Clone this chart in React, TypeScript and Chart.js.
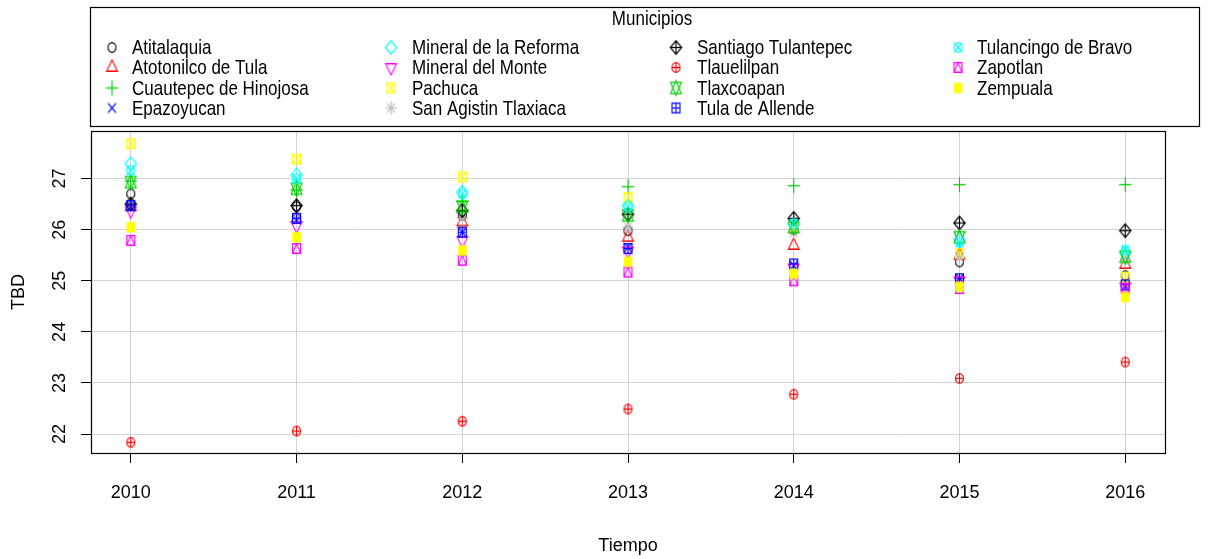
import React, { useEffect, useRef } from 'react';
import { Chart, registerables } from 'chart.js';

Chart.register(...registerables);

const years = [2010, 2011, 2012, 2013, 2014, 2015, 2016];
const yTickValues = [22, 23, 24, 25, 26, 27];

const municipios = [
  'Atitalaquia',
  'Atotonilco de Tula',
  'Cuautepec de Hinojosa',
  'Epazoyucan',
  'Mineral de la Reforma',
  'Mineral del Monte',
  'Pachuca',
  'San Agistin Tlaxiaca',
  'Santiago Tulantepec',
  'Tlauelilpan',
  'Tlaxcoapan',
  'Tula de Allende',
  'Tulancingo de Bravo',
  'Zapotlan',
  'Zempuala',
];

const atitalaquia = [26.7, 26.45, 26.28, 25.98, 26.0, 25.37, 25.1];
const atotonilco = [26.45, 26.22, 26.15, 25.85, 25.69, 25.5, 25.32];
const cuautepec = [26.95, 26.78, 26.55, 26.84, 26.86, 26.88, 26.88];
const epazoyucan = [26.45, 26.2, 25.95, 25.65, 25.3, 25.04, 24.9];
const mineralReforma = [27.29, 27.07, 26.73, 26.47, 26.1, 25.8, 25.55];
const mineralMonte = [26.37, 26.08, 25.79, 25.58, 25.25, 25.0, 24.88];
const pachuca = [27.68, 27.38, 27.03, 26.63, 26.05, 25.53, 25.07];
const sanAgistin = [26.5, 26.25, 26.22, 26.05, 25.95, 25.45, 25.4];
const santiago = [26.5, 26.47, 26.37, 26.3, 26.22, 26.13, 25.98];
const tlauelilpan = [21.84, 22.06, 22.25, 22.49, 22.78, 23.09, 23.41];
const tlaxcoapan = [26.93, 26.8, 26.45, 26.28, 26.05, 25.85, 25.47];
const tulaAllende = [26.47, 26.22, 25.95, 25.63, 25.33, 25.04, 24.92];
const tulancingo = [27.16, 27.0, 26.7, 26.45, 26.12, 25.75, 25.6];
const zapotlan = [25.79, 25.63, 25.4, 25.17, 25.0, 24.85, 24.85];
const zempuala = [26.05, 25.85, 25.59, 25.37, 25.14, 24.88, 24.68];

const seriesValues = [
  atitalaquia, atotonilco, cuautepec, epazoyucan, mineralReforma,
  mineralMonte, pachuca, sanAgistin, santiago, tlauelilpan,
  tlaxcoapan, tulaAllende, tulancingo, zapotlan, zempuala,
];

const seriesColors = [
  '#000000', '#FF0000', '#00CD00', '#0000FF', '#00FFFF', '#FF00FF', '#FFFF00', '#BEBEBE',
  '#000000', '#FF0000', '#00CD00', '#0000FF', '#00FFFF', '#FF00FF', '#FFFF00',
];
const pchCodes = [1, 2, 3, 4, 5, 6, 7, 8, 9, 10, 11, 12, 13, 14, 15];

const FONT = "'Liberation Sans', Arial, sans-serif";

function makeSymbol(pch: number, color: string): HTMLCanvasElement {
  const c = document.createElement('canvas');
  const W = 17, H = 21;
  c.width = W; c.height = H;
  const g = c.getContext('2d') as CanvasRenderingContext2D;
  g.translate(W / 2, H / 2);
  g.scale(1, 1.2);
  g.strokeStyle = color; g.fillStyle = color; g.lineWidth = 1.1;
  const r = 4.0;
  const s2 = r * Math.SQRT2;
  const line = (x1: number, y1: number, x2: number, y2: number) => {
    g.beginPath(); g.moveTo(x1, y1); g.lineTo(x2, y2); g.stroke();
  };
  const poly = (pts: number[][]) => {
    g.beginPath(); g.moveTo(pts[0][0], pts[0][1]);
    for (let k = 1; k < pts.length; k++) g.lineTo(pts[k][0], pts[k][1]);
    g.closePath(); g.stroke();
  };
  const circle = () => { g.beginPath(); g.arc(0, 0, r, 0, Math.PI * 2); g.stroke(); };
  const square = () => { g.strokeRect(-r, -r, 2 * r, 2 * r); };
  const plus = (d: number) => { line(-d, 0, d, 0); line(0, -d, 0, d); };
  const cross = (d: number) => { line(-d, -d, d, d); line(-d, d, d, -d); };
  const TRC0 = 1.5551, TRC1 = 1.3468, TRC2 = 0.7776;
  const triUp = () => poly([[0, -TRC0 * r], [TRC1 * r, TRC2 * r], [-TRC1 * r, TRC2 * r]]);
  const triDown = () => poly([[0, TRC0 * r], [TRC1 * r, -TRC2 * r], [-TRC1 * r, -TRC2 * r]]);
  switch (pch) {
    case 1: circle(); break;
    case 2: triUp(); break;
    case 3: plus(s2 + 0.5); break;
    case 4: cross(r); break;
    case 5: poly([[0, -s2], [s2, 0], [0, s2], [-s2, 0]]); break;
    case 6: triDown(); break;
    case 7: square(); cross(r); break;
    case 8: cross(r); plus(s2); break;
    case 9: poly([[0, -s2], [s2, 0], [0, s2], [-s2, 0]]); plus(s2); break;
    case 10: circle(); plus(r); break;
    case 11: {
      const rr = TRC0 * r;
      const yc = 0.5 * (TRC2 * r + rr);
      const xc = TRC1 * r;
      poly([[0, -rr], [xc, yc], [-xc, yc]]);
      poly([[0, rr], [xc, -yc], [-xc, -yc]]);
      break;
    }
    case 12: square(); plus(r); break;
    case 13: circle(); cross(r); break;
    case 14: square(); poly([[0, -r], [r, r], [-r, r]]); break;
    case 15: g.fillRect(-r - 0.3, -r - 0.3, 2 * r + 0.6, 2 * r + 0.6); break;
  }
  return c;
}

export default function App() {
  const ref = useRef<HTMLCanvasElement | null>(null);

  useEffect(() => {
    if (!ref.current) return;
    const symbols = pchCodes.map((p, i) => makeSymbol(p, seriesColors[i]));

    const datasets = municipios.map((name, i) => ({
      label: name,
      data: years.map((yr, j) => ({ x: yr, y: seriesValues[i][j] })),
      pointStyle: symbols[i] as any,
      pointRadius: 5,
      showLine: false,
      borderColor: seriesColors[i],
      backgroundColor: seriesColors[i],
      order: municipios.length - i,
    }));

    const boxPlugin = {
      id: 'plotBox',
      afterDraw(chart: any) {
        const { ctx, chartArea } = chart;
        ctx.save();
        ctx.strokeStyle = '#000';
        ctx.lineWidth = 1.2;
        ctx.strokeRect(chartArea.left + 0.5, chartArea.top + 0.5,
          chartArea.right - chartArea.left, chartArea.bottom - chartArea.top);
        ctx.restore();
      },
    };

    const legendPlugin = {
      id: 'rLegend',
      afterDraw(chart: any) {
        const ctx = chart.ctx as CanvasRenderingContext2D;
        ctx.save();
        ctx.strokeStyle = '#000';
        ctx.lineWidth = 1.2;
        ctx.strokeRect(90.5, 7.5, 1109, 119);
        ctx.fillStyle = '#000';
        ctx.font = `17px ${FONT}`;
        ctx.textBaseline = 'middle';
        const drawText = (t: string, x: number, y: number, align: CanvasTextAlign) => {
          ctx.save();
          ctx.translate(x, y);
          ctx.scale(1, 1.2);
          ctx.textAlign = align;
          ctx.fillText(t, 0, 0);
          ctx.restore();
        };
        drawText('Municipios', 652, 19, 'center');
        const colSym = [112, 391, 676, 958];
        const colText = [132, 412, 697, 977];
        const rowY = [47.5, 67.5, 88, 108];
        municipios.forEach((name, i) => {
          const col = Math.floor(i / 4);
          const row = i % 4;
          const img = symbols[i];
          ctx.drawImage(img, colSym[col] - img.width / 2, rowY[row] - img.height / 2);
          drawText(name, colText[col], rowY[row] + 1, 'left');
        });
        ctx.restore();
      },
    };

    const chart = new Chart(ref.current, {
      type: 'scatter',
      data: { datasets },
      options: {
        animation: false,
        responsive: true,
        maintainAspectRatio: false,
        layout: { padding: { top: 131, right: 43, bottom: 0, left: 0 } },
        plugins: {
          legend: { display: false },
          tooltip: { enabled: false },
        },
        scales: {
          x: {
            type: 'linear',
            min: 2009.76,
            max: 2016.24,
            afterBuildTicks: (s: any) => { s.ticks = years.map((v) => ({ value: v })); },
            afterFit: (s: any) => { s.height = 106; },
            border: { display: false },
            grid: { color: '#D3D3D3', tickColor: '#000', tickLength: 10, lineWidth: 1 },
            ticks: {
              color: '#000',
              font: { family: FONT, size: 18 },
              padding: 19,
              maxRotation: 0,
              autoSkip: false,
              callback: (v: any) => String(v),
            },
            title: {
              display: true,
              text: 'Tiempo',
              color: '#000',
              font: { family: FONT, size: 18 },
              padding: { top: 0, bottom: 2 },
            },
          },
          y: {
            type: 'linear',
            min: 21.63,
            max: 27.93,
            afterBuildTicks: (s: any) => { s.ticks = yTickValues.map((v) => ({ value: v })); },
            afterFit: (s: any) => { s.width = 91; },
            border: { display: false },
            grid: { color: '#D3D3D3', tickColor: '#000', tickLength: 10, lineWidth: 1 },
            ticks: {
              color: '#000',
              font: { family: FONT, size: 18 },
              padding: 11,
              minRotation: 90,
              maxRotation: 90,
              crossAlign: 'center',
              autoSkip: false,
              callback: (v: any) => String(v),
            },
            title: {
              display: true,
              text: 'TBD',
              color: '#000',
              font: { family: FONT, size: 18 },
              padding: { top: 8, bottom: 0 },
            },
          },
        },
      } as any,
      plugins: [boxPlugin, legendPlugin],
    });

    return () => chart.destroy();
  }, []);

  return (
    <div style={{ position: 'absolute', left: 0, top: 0, width: 1208, height: 559 }}>
      <canvas ref={ref} />
    </div>
  );
}
